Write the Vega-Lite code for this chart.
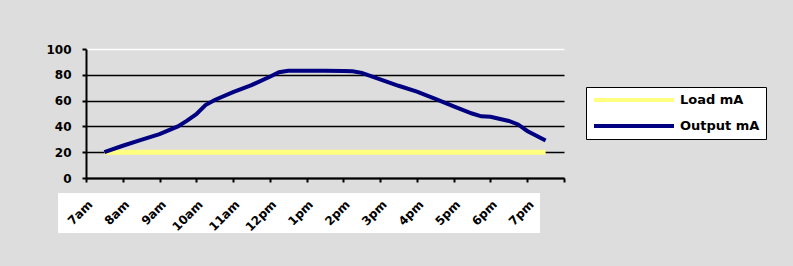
{
  "$schema": "https://vega.github.io/schema/vega-lite/v6.json",
  "width": 478,
  "height": 129,
  "autosize": "none",
  "padding": {"left": 86, "top": 49, "right": 229, "bottom": 88},
  "background": "#dddddd",
  "config": {
    "view": {"stroke": null},
    "font": "DejaVu Sans",
    "axisX": {
      "labelAngle": -45, "labelAlign": "right", "labelBaseline": "middle",
      "labelFont": "DejaVu Sans", "labelFontWeight": "bold", "labelFontSize": 12, "labelColor": "black",
      "labelPadding": 20, "labelOffset": 4, "labelOverlap": false, "labelBound": false, "labelFlush": false,
      "ticks": true, "tickSize": 4, "tickWidth": 2, "tickColor": "black",
      "domain": true, "domainColor": "black", "domainWidth": 2,
      "grid": true, "gridColor": "white", "gridWidth": 2,
      "gridOpacity": {"condition": {"test": "datum.value === 19.5", "value": 1}, "value": 0}
    },
    "axisY": {
      "labelFont": "DejaVu Sans", "labelFontWeight": "bold", "labelFontSize": 12, "labelColor": "black",
      "labelPadding": 11, "labelOverlap": false,
      "tickSize": 4, "tickWidth": 2, "tickColor": "black",
      "domainColor": "black", "domainWidth": 2,
      "grid": true, "gridWidth": 1.5,
      "gridColor": {"condition": {"test": "datum.value === 100", "value": "white"}, "value": "black"}
    }
  },
  "data": {
    "values": [
      {"series": "Load mA", "hour": 7, "value": 20},
      {"series": "Load mA", "hour": 19, "value": 20},
      {"series": "Output mA", "hour": 7.0, "value": 20},
      {"series": "Output mA", "hour": 7.5, "value": 25},
      {"series": "Output mA", "hour": 8.0, "value": 29.5},
      {"series": "Output mA", "hour": 8.5, "value": 34},
      {"series": "Output mA", "hour": 9.0, "value": 40},
      {"series": "Output mA", "hour": 9.25, "value": 44.5},
      {"series": "Output mA", "hour": 9.5, "value": 49.5},
      {"series": "Output mA", "hour": 9.75, "value": 56.5},
      {"series": "Output mA", "hour": 10.0, "value": 60.5},
      {"series": "Output mA", "hour": 10.5, "value": 66.5},
      {"series": "Output mA", "hour": 11.0, "value": 72},
      {"series": "Output mA", "hour": 11.5, "value": 78.5},
      {"series": "Output mA", "hour": 11.75, "value": 82},
      {"series": "Output mA", "hour": 12.0, "value": 83.2},
      {"series": "Output mA", "hour": 12.5, "value": 83.2},
      {"series": "Output mA", "hour": 13.0, "value": 83.2},
      {"series": "Output mA", "hour": 13.5, "value": 83},
      {"series": "Output mA", "hour": 13.75, "value": 82.7},
      {"series": "Output mA", "hour": 14.0, "value": 81.5},
      {"series": "Output mA", "hour": 14.5, "value": 76.5},
      {"series": "Output mA", "hour": 15.0, "value": 71.5},
      {"series": "Output mA", "hour": 15.5, "value": 67},
      {"series": "Output mA", "hour": 16.0, "value": 61.4},
      {"series": "Output mA", "hour": 16.5, "value": 55.6},
      {"series": "Output mA", "hour": 17.0, "value": 50},
      {"series": "Output mA", "hour": 17.25, "value": 47.8},
      {"series": "Output mA", "hour": 17.5, "value": 47.5},
      {"series": "Output mA", "hour": 18.0, "value": 44.2},
      {"series": "Output mA", "hour": 18.25, "value": 41.5},
      {"series": "Output mA", "hour": 18.5, "value": 36.5},
      {"series": "Output mA", "hour": 19.0, "value": 29}
    ]
  },
  "layer": [
    {
      "mark": {"type": "rect", "fill": "white", "stroke": null},
      "encoding": {
        "x": {
          "datum": 5.76, "type": "quantitative",
          "scale": {"domain": [6.5, 19.5], "nice": false, "zero": false},
          "axis": {
            "title": null, "zindex": 1,
            "values": [6.5, 7.5, 8.5, 9.5, 10.5, 11.5, 12.5, 13.5, 14.5, 15.5, 16.5, 17.5, 18.5, 19.5],
            "labelExpr": "datum.value > 19 ? '' : (datum.value + 0.5 < 12 ? (datum.value + 0.5) + 'am' : (datum.value + 0.5 === 12 ? '12pm' : (datum.value + 0.5 - 12) + 'pm'))"
          }
        },
        "x2": {"datum": 18.83},
        "y": {
          "datum": -11.6, "type": "quantitative",
          "scale": {"domain": [0, 100], "nice": false},
          "axis": {"title": null, "values": [0, 20, 40, 60, 80, 100]}
        },
        "y2": {"datum": -42.6}
      }
    },
    {
      "transform": [{"filter": "datum.series === 'Load mA'"}],
      "mark": {"type": "line", "strokeWidth": 5},
      "encoding": {
        "x": {
          "field": "hour", "type": "quantitative",
          "axis": {
            "title": null, "zindex": 1,
            "values": [6.5, 7.5, 8.5, 9.5, 10.5, 11.5, 12.5, 13.5, 14.5, 15.5, 16.5, 17.5, 18.5, 19.5],
            "labelExpr": "datum.value > 19 ? '' : (datum.value + 0.5 < 12 ? (datum.value + 0.5) + 'am' : (datum.value + 0.5 === 12 ? '12pm' : (datum.value + 0.5 - 12) + 'pm'))"
          }
        },
        "y": {
          "field": "value", "type": "quantitative",
          "axis": {"title": null, "values": [0, 20, 40, 60, 80, 100]}
        },
        "color": {
          "field": "series", "type": "nominal",
          "scale": {"domain": ["Load mA", "Output mA"], "range": ["#FFFF80", "#000080"]},
          "legend": {
            "orient": "none", "legendX": 500, "legendY": 38,
            "title": null,
            "symbolType": "stroke", "symbolSize": 6400, "symbolStrokeWidth": 4,
            "clipHeight": 14,
            "labelFont": "DejaVu Sans", "labelFontWeight": "bold", "labelFontSize": 13, "labelColor": "black",
            "labelOffset": 4,
            "fillColor": "white", "strokeColor": "black", "padding": 6, "rowPadding": 12
          }
        }
      }
    },
    {
      "transform": [{"filter": "datum.series === 'Output mA'"}],
      "mark": {"type": "line", "strokeWidth": 4},
      "encoding": {
        "x": {
          "field": "hour", "type": "quantitative",
          "axis": {
            "title": null, "zindex": 1,
            "values": [6.5, 7.5, 8.5, 9.5, 10.5, 11.5, 12.5, 13.5, 14.5, 15.5, 16.5, 17.5, 18.5, 19.5],
            "labelExpr": "datum.value > 19 ? '' : (datum.value + 0.5 < 12 ? (datum.value + 0.5) + 'am' : (datum.value + 0.5 === 12 ? '12pm' : (datum.value + 0.5 - 12) + 'pm'))"
          }
        },
        "y": {
          "field": "value", "type": "quantitative",
          "axis": {"title": null, "values": [0, 20, 40, 60, 80, 100]}
        },
        "color": {"field": "series", "type": "nominal"}
      }
    }
  ]
}
